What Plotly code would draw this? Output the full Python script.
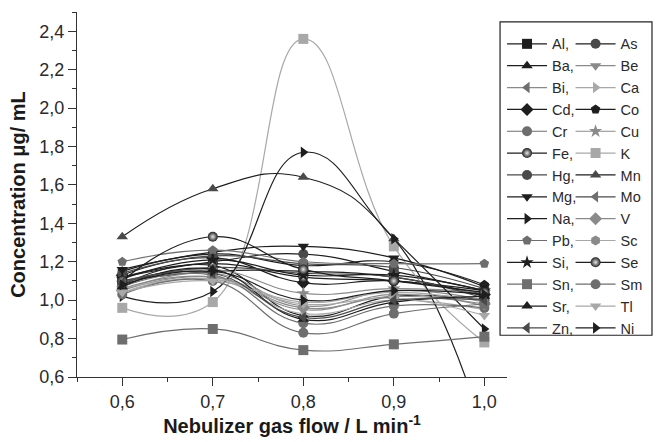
import plotly.graph_objects as go

# ---- data ----
flow = [0.6, 0.7, 0.8, 0.9, 1.0]
x_tick_vals = [0.6, 0.7, 0.8, 0.9, 1.0]
y_tick_vals = [0.6, 0.8, 1.0, 1.2, 1.4, 1.6, 1.8, 2.0, 2.2, 2.4]

Al = [1.10, 1.15, 1.15, 1.12, 1.02]
As = [1.12, 1.20, 1.24, 1.15, 1.05]
Ba = [1.08, 1.18, 0.92, 1.02, 1.00]
Be = [1.06, 1.12, 0.95, 1.03, 0.97]
Bi = [1.05, 1.14, 0.97, 1.05, 1.00]
Ca = [1.04, 1.11, 0.93, 1.00, 0.95]
Cd = [1.13, 1.22, 1.09, 1.10, 1.03]
Co = [1.15, 1.24, 1.18, 1.20, 1.08]
Cr = [1.07, 1.13, 0.88, 0.97, 0.96]
Cu = [1.09, 1.16, 1.035, 1.06, 1.04]
Fe = [1.12, 1.19, 1.12, 1.10, 1.05]
K = [0.96, 0.99, 2.36, 1.28, 0.78]
Hg = [1.14, 1.23, 1.19, 1.17, 1.06]
Mn = [1.33, 1.58, 1.64, 1.32, 0.30]
Mg = [1.16, 1.25, 1.28, 1.22, 1.07]
Mo = [1.10, 1.17, 1.14, 1.12, 1.01]
Na = [1.02, 1.045, 1.77, 1.32, 0.85]
V = [1.05, 1.12, 0.96, 1.02, 0.98]
Pb = [1.20, 1.26, 1.20, 1.19, 1.19]
Sc = [1.06, 1.11, 0.99, 1.04, 0.99]
Si = [1.11, 1.21, 1.13, 1.13, 1.05]
Se = [1.10, 1.33, 1.16, 1.10, 1.04]
Sn = [0.795, 0.85, 0.74, 0.77, 0.81]
Sm = [1.03, 1.10, 0.83, 0.93, 0.98]
Sr = [1.07, 1.16, 0.90, 0.99, 1.02]
Tl = [1.04, 1.10, 0.98, 1.01, 0.92]
Zn = [1.09, 1.14, 0.91, 1.00, 1.00]
Ni = [1.08, 1.15, 1.00, 1.05, 1.03]

# ---- styles: (legend label, values, symbol, marker colour, line colour, legend id, sphere) ----
BLK = "#1e1e1e"
DG = "#4a4a4a"
MG = "#6e6e6e"
GR = "#8a8a8a"
LG = "#a8a8a8"

series = [
    ("Al,", Al, "square", BLK, BLK, "legend", False),
    ("As", As, "circle", DG, BLK, "legend2", False),
    ("Ba,", Ba, "triangle-up", BLK, BLK, "legend", False),
    ("Be", Be, "triangle-down", GR, GR, "legend2", False),
    ("Bi,", Bi, "triangle-left", MG, GR, "legend", False),
    ("Ca", Ca, "triangle-right", LG, LG, "legend2", False),
    ("Cd,", Cd, "diamond", BLK, BLK, "legend", False),
    ("Co", Co, "pentagon", BLK, BLK, "legend2", False),
    ("Cr", Cr, "circle", MG, MG, "legend", False),
    ("Cu", Cu, "star", GR, GR, "legend2", False),
    ("Fe,", Fe, "circle", BLK, BLK, "legend", True),
    ("K", K, "square", LG, LG, "legend2", False),
    ("Hg,", Hg, "circle", DG, DG, "legend", False),
    ("Mn", Mn, "triangle-up", DG, BLK, "legend2", False),
    ("Mg,", Mg, "triangle-down", BLK, BLK, "legend", False),
    ("Mo", Mo, "triangle-left", MG, DG, "legend2", False),
    ("Na,", Na, "triangle-right", BLK, BLK, "legend", False),
    ("V", V, "diamond", GR, GR, "legend2", False),
    ("Pb,", Pb, "pentagon", MG, MG, "legend", False),
    ("Sc", Sc, "hexagon", GR, LG, "legend2", False),
    ("Si,", Si, "star", BLK, BLK, "legend", False),
    ("Se", Se, "circle", BLK, BLK, "legend2", True),
    ("Sn,", Sn, "square", MG, MG, "legend", False),
    ("Sm", Sm, "circle", MG, MG, "legend2", False),
    ("Sr,", Sr, "triangle-up", BLK, BLK, "legend", False),
    ("Tl", Tl, "triangle-down", LG, LG, "legend2", False),
    ("Zn,", Zn, "triangle-left", DG, DG, "legend", False),
    ("Ni", Ni, "triangle-right", BLK, BLK, "legend2", False),
]

fig = go.Figure()
for name, vals, sym, mcol, lcol, leg, sphere in series:
    marker = dict(symbol=sym, size=10, color=mcol, line=dict(width=0))
    if sphere:
        marker["gradient"] = dict(type="radial", color="#e8e8e8")
    fig.add_trace(go.Scatter(
        x=flow, y=vals, name=name, mode="lines+markers",
        line=dict(color=lcol, width=1.2, shape="spline", smoothing=1.3),
        marker=marker, legend=leg, cliponaxis=True,
    ))

FONT = "Arial, Liberation Sans, sans-serif"
L, R, T, B = 77, 149, 12, 63
W, H = 659, 442
pw, ph = W - L - R, H - T - B

def px_x(px):
    return (px - L) / pw

def px_y(py):
    return (H - B - py) / ph

LEGFONT = dict(family=FONT, size=14.5, color="#2a2a2a")

fig.update_layout(
    width=W, height=H,
    margin=dict(l=L, r=R, t=T, b=B),
    paper_bgcolor="white", plot_bgcolor="white",
    separators=",.",
    font=dict(family=FONT, size=15, color="#2a2a2a"),
    showlegend=True,
    legend=dict(x=px_x(505), y=px_y(28), xanchor="left", yanchor="top",
                bgcolor="rgba(0,0,0,0)", borderwidth=0, itemwidth=40,
                font=LEGFONT, tracegroupgap=0),
    legend2=dict(x=px_x(574), y=px_y(28), xanchor="left", yanchor="top",
                 bgcolor="rgba(0,0,0,0)", borderwidth=0, itemwidth=40,
                 font=LEGFONT, tracegroupgap=0),
    shapes=[dict(type="rect", xref="paper", yref="paper",
                 x0=px_x(503), x1=px_x(656), y0=px_y(337), y1=px_y(22),
                 line=dict(color="#222", width=1.2), fillcolor="white",
                 layer="above")],
    xaxis=dict(
        range=[0.55, 1.025], tickvals=x_tick_vals, tickformat=".1f",
        showgrid=False, zeroline=False, showline=True, linecolor="#333",
        linewidth=1.3, ticks="outside", ticklen=8, tickwidth=1.2, tickcolor="#333",
        minor=dict(ticks="outside", ticklen=4, tickwidth=1.2, tickcolor="#333",
                   dtick=0.05, tick0=0.55),
        tickfont=dict(size=18, color="#2a2a2a"),
        title=dict(text="<b>Nebulizer gas flow / L min<sup>-1</sup></b>",
                   font=dict(size=20, color="#1a1a1a"), standoff=4),
    ),
    yaxis=dict(
        range=[0.6, 2.5], tickvals=y_tick_vals, tickformat=".1f",
        showgrid=False, zeroline=False, showline=True, linecolor="#333",
        linewidth=1.3, ticks="outside", ticklen=8, tickwidth=1.2, tickcolor="#333",
        minor=dict(ticks="outside", ticklen=4, tickwidth=1.2, tickcolor="#333",
                   dtick=0.1, tick0=0.6),
        tickfont=dict(size=18, color="#2a2a2a"),
        title=dict(text="<b>Concentration μg/ mL</b>",
                   font=dict(size=20, color="#1a1a1a"), standoff=8),
    ),
)

fig.write_html("out.html")
